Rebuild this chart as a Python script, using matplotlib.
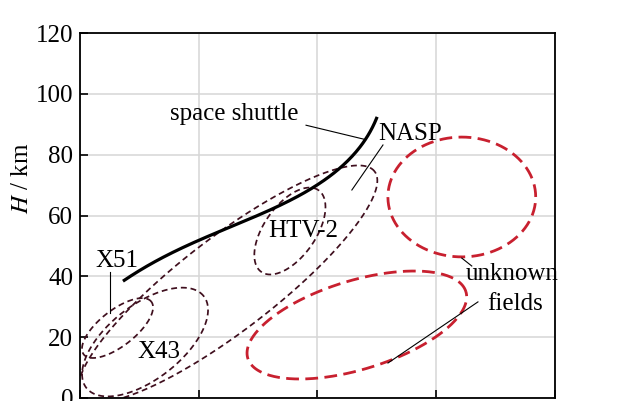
import numpy as np
import matplotlib
matplotlib.use("Agg")
import matplotlib.pyplot as plt

plt.rcParams["font.family"] = ["Liberation Serif", "DejaVu Serif"]
plt.rcParams["mathtext.fontset"] = "stix"

# ── Data ─────────────────────────────────────────────────────
x_ticks = [0, 5, 10, 15, 20]
y_ticks = [0, 20, 40, 60, 80, 100, 120]

# space shuttle trajectory (x, H km)
shuttle_x = [1.81, 2.95, 4.08, 5.60, 7.03, 8.42, 9.81, 11.07, 11.79, 12.51]
shuttle_h = [38.5, 43.7, 48.7, 53.9, 58.5, 63.4, 69.0, 76.6, 82.5, 92.4]

# flight envelopes: centre x, centre H, semi-axes (km-equivalent), tilt deg
env_names = ["X51", "X43", "NASP", "HTV-2"]
env_cx    = [1.58, 2.74, 6.23, 8.84]
env_cy    = [23.0, 18.4, 37.5, 54.9]
env_a     = [14.1, 24.5, 60.8, 16.4]
env_b     = [5.9, 12.2, 15.4, 8.5]
env_ang   = [38, 38, 37.5, 55]

unk_cx  = [16.08, 11.66]
unk_cy  = [66.1, 24.0]
unk_a   = [24.3, 37.5]
unk_b   = [19.7, 14.6]
unk_ang = [0, 17]

fig = plt.figure(figsize=(6.4, 4.01), dpi=100)
ax = fig.add_axes([0.125, 0.0075, 0.742, 0.910])
ax.set_xlim(0, 20)
ax.set_ylim(0, 120)

# x unit expressed in km-equivalent screen length
w_in = 0.742 * 6.4
h_in = 0.910 * 4.01
xr = (w_in / 20) / (h_in / 120)

def ellipse(cx, cy, a, b, ang):
    t = np.linspace(0, 2 * np.pi, 300)
    th = np.deg2rad(ang)
    ex = a * np.cos(t) * np.cos(th) - b * np.sin(t) * np.sin(th)
    ey = a * np.cos(t) * np.sin(th) + b * np.sin(t) * np.cos(th)
    return cx + ex / xr, cy + ey

def smooth(xs, ys, deg=4, n=200):
    # chord-length parameter, in screen-like units
    xs, ys = np.asarray(xs), np.asarray(ys)
    d = np.hypot(np.diff(xs) * xr, np.diff(ys))
    s = np.concatenate([[0], np.cumsum(d)])
    s /= s[-1]
    ss = np.linspace(0, 1, n)
    return (np.polyval(np.polyfit(s, xs, deg), ss),
            np.polyval(np.polyfit(s, ys, deg), ss))

for i in range(len(env_names)):
    ex, ey = ellipse(env_cx[i], env_cy[i], env_a[i], env_b[i], env_ang[i])
    ax.plot(ex, ey, color="#3f0f1e", lw=1.25, dashes=(3.4, 2.2))

for i in range(len(unk_cx)):
    ex, ey = ellipse(unk_cx[i], unk_cy[i], unk_a[i], unk_b[i], unk_ang[i])
    ax.plot(ex, ey, color="#c8202f", lw=2.0, dashes=(4.6, 2.3))

sx, sy = smooth(shuttle_x, shuttle_h)
ax.plot(sx, sy, color="black", lw=2.3, solid_capstyle="butt")

# ── Labels + leader lines ─────────────────────────────────────
fs = 18
ax.text(3.79, 91.4, "space shuttle", fontsize=fs, va="baseline")
ax.plot([9.52, 11.96], [89.7, 85.1], color="black", lw=0.8)
ax.text(12.55, 84.8, "NASP", fontsize=fs, va="baseline")
ax.plot([12.76, 11.45], [83.2, 68.4], color="black", lw=0.8)
ax.text(7.92, 52.9, "HTV-2", fontsize=fs, va="baseline")
ax.text(0.63, 43.1, "X51", fontsize=fs, va="baseline")
ax.plot([1.26, 1.26], [41.4, 27.9], color="black", lw=0.8)
ax.text(2.44, 13.1, "X43", fontsize=fs, va="baseline")
ax.text(16.25, 38.8, "unknown", fontsize=fs, va="baseline", clip_on=False)
ax.plot([16.08, 16.5], [46.0, 43.4], color="black", lw=0.8)
ax.text(17.14, 28.9, "fields", fontsize=fs, va="baseline")
ax.plot([16.76, 12.97], [31.6, 11.5], color="black", lw=0.8)

# ── Axes styling ──────────────────────────────────────────────
ax.set_xticks(x_ticks)
ax.set_yticks(y_ticks)
ax.set_xticklabels([])
ax.tick_params(direction="in", length=6, width=1.2, labelsize=fs, pad=5)
ax.grid(True, color="#d6d6d6", lw=1.1)
ax.set_axisbelow(True)
for sp in ax.spines.values():
    sp.set_linewidth(1.3)

fig.text(22 / 640, 1 - 178 / 401, "$H$ / km", rotation=90, fontsize=fs,
         ha="center", va="center")

fig.savefig("out.png", dpi=100)
